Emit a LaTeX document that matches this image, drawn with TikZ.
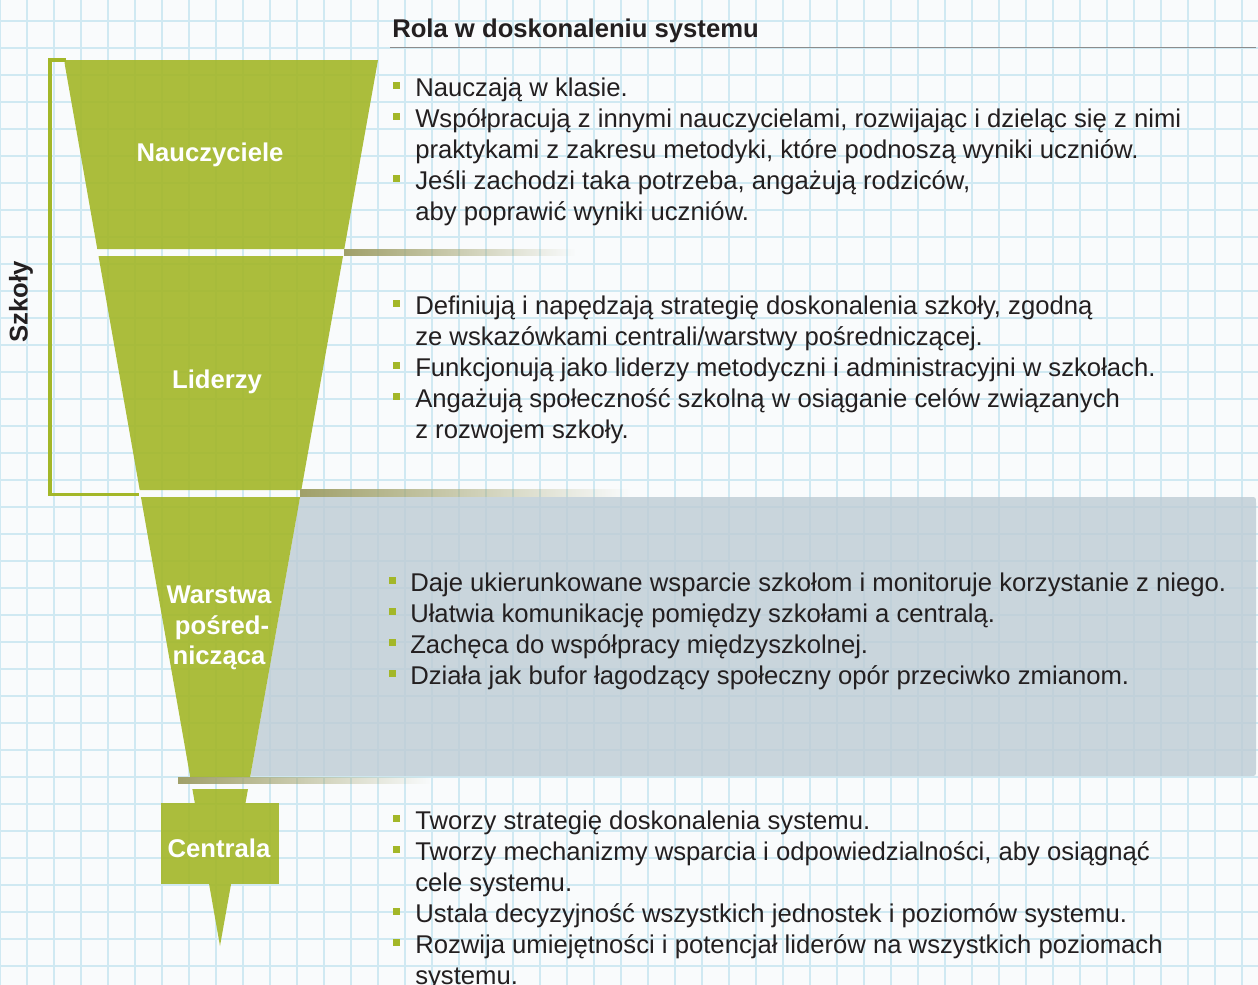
\documentclass[tikz,border=0pt]{standalone}
\usepackage{fontspec}
\setmainfont{Liberation Sans}
\usetikzlibrary{fadings}
\definecolor{fgreen}{RGB}{163,183,40}
\definecolor{gridblue}{RGB}{208,233,242}
\definecolor{bgpaper}{RGB}{249,251,252}
\definecolor{panelgray}{RGB}{190,204,212}
\definecolor{txt}{RGB}{35,31,32}
\definecolor{shadowol}{RGB}{160,160,105}
\begin{document}
\begin{tikzpicture}[x=0.75pt,y=-0.75pt,
  body/.style={anchor=base west, inner sep=0, font=\fontsize{19.25pt}{23pt}\selectfont, text=txt},
  bul/.style={fill=fgreen, minimum size=5.5pt, inner sep=0, anchor=center},
  lab/.style={anchor=base, inner sep=0, font=\fontsize{19.25pt}{23pt}\selectfont\bfseries, text=white},
  piece/.style={fill=fgreen, fill opacity=0.9},
  shadowline/.style={fill=shadowol, path fading=east}]
\useasboundingbox (0,0) rectangle (1258,985);
\fill[bgpaper] (0,0) rectangle (1258,985);
% grid
\foreach \i in {0,...,46} \draw[gridblue, line width=1.3pt] (\i*27,0) -- (\i*27,985);
\foreach \j in {0,...,35} \draw[gridblue, line width=1.3pt] (0,21+\j*27) -- (1258,21+\j*27);

% gray panel
\fill[panelgray, fill opacity=0.8] (300.07,497) -- (1250,497) .. controls (1256,497) .. (1256,503)
  -- (1256,770) .. controls (1256,776) .. (1250,776) -- (250.3,776) -- cycle;

% funnel pieces
\fill[piece] (97.28,249) -- (65.04,65.9) .. controls (64,60) .. (70,60) -- (378,60) -- (344.30,249) -- cycle;
\fill[piece] (98.51,256) -- (343.05,256) -- (301.32,490) -- (139.71,490) -- cycle;
\fill[piece] (140.94,497) -- (300.07,497) -- (250.14,777) -- (190.24,777) -- cycle;
\fill[piece] (192.36,789) -- (248.0,789) -- (245.5,803) -- (194.82,803) -- cycle;
\fill[piece] (161,803) rectangle (279,884);
\fill[piece] (209.08,884) -- (231.06,884) -- (220,946) -- cycle;

% shadow lines
\fill[shadowline] (344.3,249) rectangle (575,256);
\fill[shadowline] (300,489) rectangle (630,497);
\fill[shadowline] (178,777) rectangle (430,784);

% bracket
\draw[fgreen, line width=2.3pt] (66,60) -- (50,60) -- (50,494.5) -- (139,494.5);
\node[rotate=90, inner sep=0, font=\fontsize{19.25pt}{23pt}\selectfont\bfseries, text=txt] (szkoly) at (21,302) {Szkoły};

% title
\node[body, font=\fontsize{19.25pt}{23pt}\selectfont\bfseries] (title) at (392,37) {Rola w doskonaleniu systemu};
\draw[black!45, line width=1.2pt] (390,47.5) -- (1256,47.5);

% funnel labels
\node[lab] (nau) at (210,161) {Nauczyciele};
\node[lab] (lid) at (217,388) {Liderzy};
\node[lab] (war1) at (219,603) {Warstwa};
\node[lab] (war2) at (222,634) {pośred-};
\node[lab] (war3) at (219,664) {nicząca};
\node[lab] (cen) at (219,857) {Centrala};

% section 1
\node[bul] (b11) at (396.5,85.5) {};
\node[body] (t11) at (415,96) {Nauczają w klasie.};
\node[bul] (b12) at (396.5,116.5) {};
\node[body] (t12) at (415,127) {Współpracują z innymi nauczycielami, rozwijając i dzieląc się z nimi};
\node[body] (t13) at (415,158) {praktykami z zakresu metodyki, które podnoszą wyniki uczniów.};
\node[bul] (b14) at (396.5,178.5) {};
\node[body] (t14) at (415,189) {Jeśli zachodzi taka potrzeba, angażują rodziców,};
\node[body] (t15) at (415,220) {aby poprawić wyniki uczniów.};

% section 2
\node[bul] (b21) at (396.5,303.5) {};
\node[body] (t21) at (415,314) {Definiują i napędzają strategię doskonalenia szkoły, zgodną};
\node[body] (t22) at (415,345) {ze wskazówkami centrali/warstwy pośredniczącej.};
\node[bul] (b23) at (396.5,365.5) {};
\node[body] (t23) at (415,376) {Funkcjonują jako liderzy metodyczni i administracyjni w szkołach.};
\node[bul] (b24) at (396.5,396.5) {};
\node[body] (t24) at (415,407) {Angażują społeczność szkolną w osiąganie celów związanych};
\node[body] (t25) at (415,438) {z rozwojem szkoły.};

% section 3
\node[bul] (b31) at (392.5,580.5) {};
\node[body] (t31) at (410,591) {Daje ukierunkowane wsparcie szkołom i monitoruje korzystanie z niego.};
\node[bul] (b32) at (392.5,611.5) {};
\node[body] (t32) at (410,622) {Ułatwia komunikację pomiędzy szkołami a centralą.};
\node[bul] (b33) at (392.5,642.5) {};
\node[body] (t33) at (410,653) {Zachęca do współpracy międzyszkolnej.};
\node[bul] (b34) at (392.5,673.5) {};
\node[body] (t34) at (410,684) {Działa jak bufor łagodzący społeczny opór przeciwko zmianom.};

% section 4
\node[bul] (b41) at (396.5,818.5) {};
\node[body] (t41) at (415,829) {Tworzy strategię doskonalenia systemu.};
\node[bul] (b42) at (396.5,849.5) {};
\node[body] (t42) at (415,860) {Tworzy mechanizmy wsparcia i odpowiedzialności, aby osiągnąć};
\node[body] (t43) at (415,891) {cele systemu.};
\node[bul] (b44) at (396.5,911.5) {};
\node[body] (t44) at (415,922) {Ustala decyzyjność wszystkich jednostek i poziomów systemu.};
\node[bul] (b45) at (396.5,942.5) {};
\node[body] (t45) at (415,953) {Rozwija umiejętności i potencjał liderów na wszystkich poziomach};
\node[body] (t46) at (415,984) {systemu.};
\end{tikzpicture}
\end{document}
